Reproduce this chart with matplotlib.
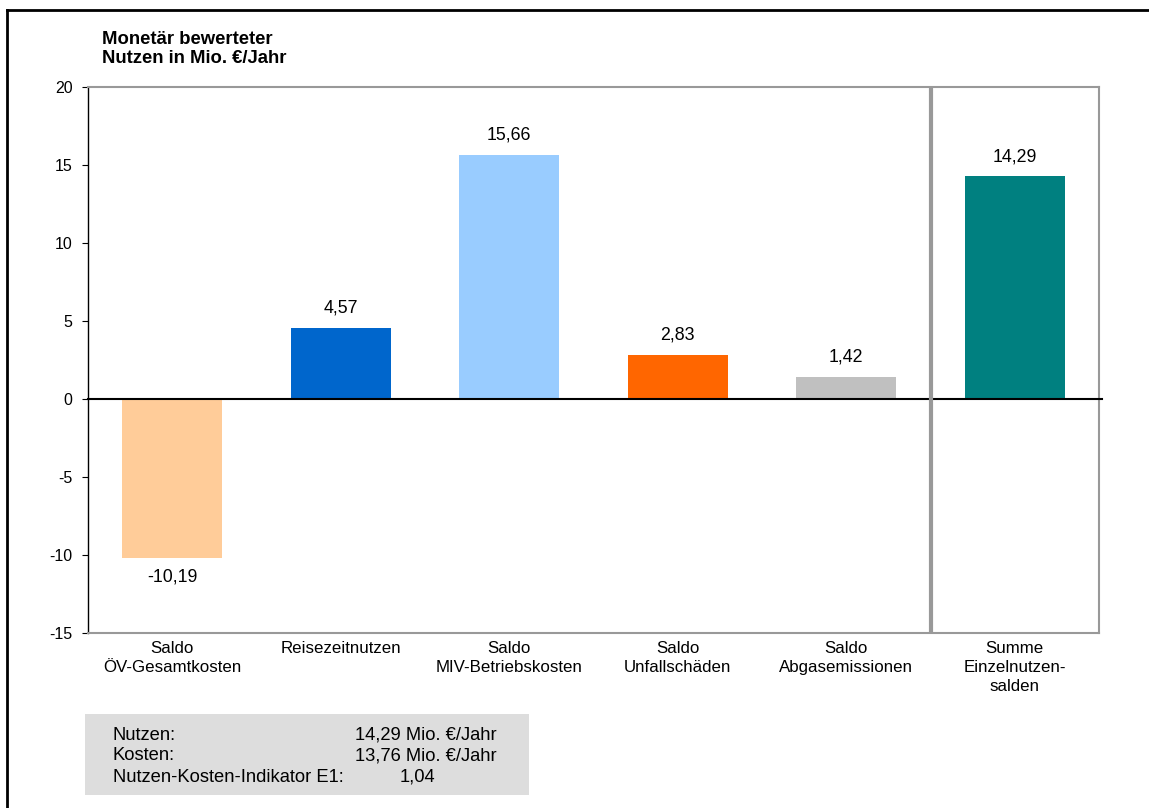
import numpy as np
import matplotlib.pyplot as plt
from matplotlib.patches import Rectangle
from matplotlib.lines import Line2D

plt.rcParams['font.family'] = ['Liberation Sans', 'DejaVu Sans']

categories = ['Saldo\nÖV-Gesamtkosten', 'Reisezeitnutzen', 'Saldo\nMIV-Betriebskosten',
              'Saldo\nUnfallschäden', 'Saldo\nAbgasemissionen', 'Summe\nEinzelnutzen-\nsalden']
values = [-10.19, 4.57, 15.66, 2.83, 1.42, 14.29]
colors = ['#FFCC99', '#0066CC', '#99CCFF', '#FF6600', '#C0C0C0', '#008080']
yticks = [-15, -10, -5, 0, 5, 10, 15, 20]
summary_labels = ['Nutzen:', 'Kosten:', 'Nutzen-Kosten-Indikator E1:']
summary_values = ['14,29 Mio. €/Jahr', '13,76 Mio. €/Jahr', '1,04']

W, H = 1149, 808
fig = plt.figure(figsize=(W / 100, H / 100), dpi=100)

def fx(px):
    return px / W

def fy(py):
    return 1 - py / H

# outer frame (top and left visible)
fig.add_artist(Line2D([fx(7), fx(1149)], [fy(10), fy(10)], color='black', lw=2))
fig.add_artist(Line2D([fx(7), fx(7)], [fy(10), fy(808)], color='black', lw=2))

ax = fig.add_axes([fx(88), fy(633), fx(1099) - fx(88), fy(87) - fy(633)])
x = np.arange(len(values))
ax.bar(x, values, width=0.595, color=colors, zorder=2)

for xi, v in zip(x, values):
    lbl = f'{v:.2f}'.replace('.', ',')
    if v >= 0:
        ax.text(xi, v + 0.7, lbl, ha='center', va='bottom', fontsize=12.8)
    else:
        ax.text(xi, v - 0.7, lbl, ha='center', va='top', fontsize=12.8)

ax.set_xlim(-0.5, len(values) - 0.5)
ax.set_ylim(-15, 20)
ax.set_yticks(yticks)
ax.set_yticklabels([str(t) for t in yticks], fontsize=11.5)
ax.set_xticks(x)
ax.set_xticklabels(categories, fontsize=12.2, linespacing=1.3)
ax.tick_params(axis='x', length=0, pad=6)
ax.tick_params(axis='y', length=4, width=0.8, pad=7)

for s in ['top', 'right', 'bottom']:
    ax.spines[s].set_color('#999999')
    ax.spines[s].set_linewidth(1.5)
ax.spines['left'].set_color('black')
ax.spines['left'].set_linewidth(1)

ax.plot([-0.5, 5.52], [0, 0], color='black', lw=1.5, clip_on=False, zorder=3)
ax.axvline(4.5, color='#999999', lw=3, zorder=3)

fig.text(fx(102), fy(31), 'Monetär bewerteter\nNutzen in Mio. €/Jahr', fontsize=13.3,
         fontweight='bold', ha='left', va='top', linespacing=1.15)

# summary box
fig.add_artist(Rectangle((fx(85), fy(795)), fx(529) - fx(85), fy(714) - fy(795),
                         facecolor='#DDDDDD', edgecolor='none'))
for i, (lab, val) in enumerate(zip(summary_labels, summary_values)):
    yy = fy(735 + i * 21)
    fig.text(fx(113), yy, lab, fontsize=13.2, ha='left', va='center')
    if i < 2:
        fig.text(fx(497), yy, val, fontsize=13.2, ha='right', va='center')
    else:
        fig.text(fx(417), yy, val, fontsize=13.2, ha='center', va='center')

fig.savefig('out.png', dpi=100)
